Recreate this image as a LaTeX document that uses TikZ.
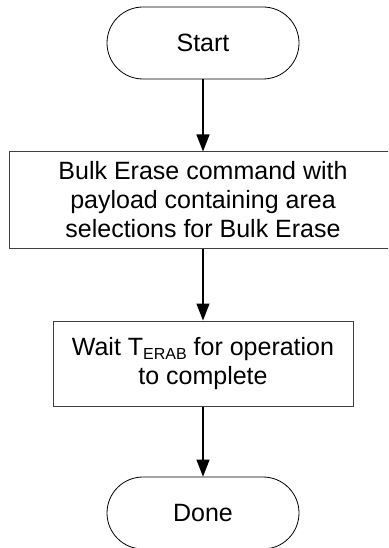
\documentclass[tikz,border=0pt]{standalone}
\usepackage{fontspec}
\setmainfont{Liberation Sans}
\usetikzlibrary{arrows.meta}
\begin{document}
\begin{tikzpicture}[x=1pt,y=-1pt,
  every node/.style={font=\fontsize{25}{29}\selectfont, align=center, inner sep=0pt},
  term/.style={draw=black, line width=0.8pt, rounded corners=36pt, minimum width=192pt, minimum height=72pt},
  proc/.style={draw=black!75, line width=1pt},
  flow/.style={draw=black, line width=1.3pt, -{Triangle[width=13pt,length=17pt]}}]
\useasboundingbox (0,0) rectangle (388,548);
\clip (0,0) rectangle (388,548);
\node[term] (start) at (203,43) {Start};
\node[proc, minimum width=387pt, minimum height=96pt] (bulk) at (203,200)
  {Bulk Erase command with\\payload containing area\\selections for Bulk Erase};
\node[proc, minimum width=300pt, minimum height=85pt] (wait) at (203,363.5)
  {Wait T\raisebox{-4pt}{\fontsize{16}{16}\selectfont ERAB} for operation\\to complete};
\node[term] (done) at (203,513) {Done};
\draw[flow] (start) -- (bulk);
\draw[flow] (bulk) -- (wait);
\draw[flow] (wait) -- (done);
\end{tikzpicture}
\end{document}
